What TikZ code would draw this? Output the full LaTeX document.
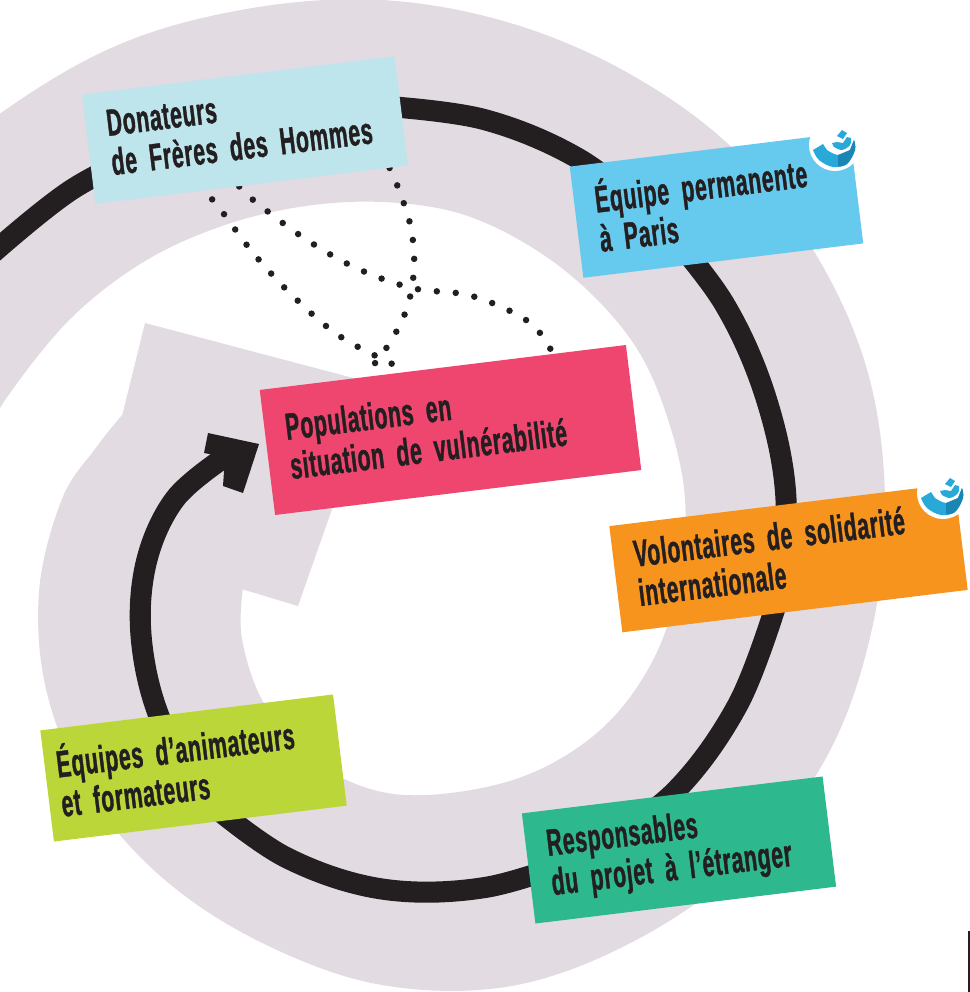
\documentclass[tikz,border=0pt]{standalone}
\usepackage{fontspec}
\usetikzlibrary{backgrounds,calc}
\newfontfamily\boxfont[FakeStretch=0.56,LetterSpace=2,FakeBold=1]{Liberation Sans}
\definecolor{ringgrey}{HTML}{E2DBE1}
\definecolor{inkblack}{HTML}{231F20}
\definecolor{paleblue}{HTML}{BEE4EC}
\definecolor{skyblue}{HTML}{66C9EE}
\definecolor{rosered}{HTML}{EE466E}
\definecolor{sunorange}{HTML}{F7941E}
\definecolor{limegreen}{HTML}{BBD638}
\definecolor{seagreen}{HTML}{2DB88D}
\definecolor{dropblue}{HTML}{29A9D8}
\definecolor{dropdark}{HTML}{1B86B4}
\tikzset{
  infobox/.style={rectangle, rotate=7, inner xsep=0.42cm, inner ysep=0pt, align=left, text=inkblack, text depth=27pt,
    font=\boxfont\bfseries\fontsize{21.5}{22.5}\selectfont\spaceskip 3.5pt\relax},
  ringline/.style={inkblack, line width=12pt},
  dotline/.style={inkblack, line width=3.7pt, line cap=round, dash pattern=on 0pt off 10.8pt},
  ringcurve/.style={smooth, tension=0.6},
}
\newcommand{\dropmark}[1]{
\begin{scope}[shift={#1}]
\fill[white] (835,145) circle [radius=26];
\fill[dropblue] plot[smooth,tension=.6] coordinates {(813,150) (819,160) (833,167) (847,164) (855,150) (854,140)}
  -- plot[smooth,tension=.6] coordinates {(850,150) (838,155) (827,150)} -- (823,144) -- cycle;
\fill[dropdark] plot[smooth,tension=.6] coordinates {(838,166) (847,164) (855,150) (854,140)}
  -- plot[smooth,tension=.6] coordinates {(850,150) (838,155)} -- cycle;
\fill[dropblue] (832,143) -- plot[smooth,tension=.6] coordinates {(834,147) (842,150) (850,145) (851,138)} -- (847,137) -- (843,143) -- (837,142) -- cycle;
\fill[dropblue] (842,130) -- (847,133) -- (843,139) -- (837,136) -- cycle;
\end{scope}
}

\begin{document}
\begin{tikzpicture}[x=0.02cm, y=-0.02cm]
\useasboundingbox (0,0) rectangle (970,992);
\node[infobox, fill=paleblue, text width=5.46cm, minimum height=2.2cm] (donors) at (245,130) {Donateurs\\de Frères des Hommes};
\node[infobox, fill=skyblue, text width=4.8cm, minimum height=2.24cm] (paris) at (716.5,205) {Équipe permanente\\à Paris};
\node[infobox, fill=rosered, text width=6.54cm, minimum height=2.52cm] (people) at (450.5,430) {Populations en\\situation de vulnérabilité};
\node[infobox, fill=sunorange, text width=6.12cm, minimum height=2.14cm] (volunteers) at (788.5,558) {Volontaires de solidarité\\internationale};
\node[infobox, fill=seagreen, text width=5.22cm, minimum height=2.22cm] (managers) at (679,850) {Responsables\\du projet à l’étranger};
\node[infobox, fill=limegreen, inner xsep=0.24cm, text width=5.42cm, minimum height=2.24cm] (teams) at (193.5,768) {Équipes d’animateurs\\et formateurs};
\coordinate (hub) at (382,499);
\coordinate (offleft) at (-22,266);
\coordinate (headbase) at (225,457);
\coordinate (dotA) at ($(donors.south west)!0.34!(donors.south east)+(-3,-5)$);
\coordinate (dotB) at ($(donors.south west)!0.46!(donors.south east)$);
\coordinate (dotC) at ($(donors.south west)!0.94!(donors.south east)$);
\coordinate (endA) at ($(people.north west)!0.39!(people.north east)$);
\coordinate (endB) at ($(people.north west)!0.80!(people.north east)$);
\coordinate (endC) at ($(people.north west)!0.285!(people.north east)$);
\begin{scope}[on background layer]
\begin{scope}[shift={(hub)}]
\fill[ringgrey] (145,323) ++(-382,-499) -- ++(231,61) -- ++(-78,222)
  -- plot[ringcurve] coordinates {(147:166) (135:198) (120:236) (105:270) (90:293) (75:303) (60:313) (45:318) (30:315) (15:308) (0:303) (-15:297) (-30:296) (-45:293) (-60:293) (-75:296) (-90:297) (-105:303) (-120:316) (-135:336) (-150:360) (-165:389) (-172:403)}
  -- plot[ringcurve] coordinates {(-150:575) (-135:543) (-120:525) (-105:508) (-90:499) (-75:493) (-60:492) (-45:496) (-30:498) (-15:502) (0:503) (15:507) (30:514) (45:514) (60:509) (75:504) (90:486) (105:460) (120:438) (135:415) (150:387) (165:355) (180:320) (190:291) (198:273)} -- cycle;
\draw[ringline] plot[ringcurve] coordinates {(offleft) (-135:438) (-120:416)} -- (donors.center);
\draw[ringline] (donors.center) -- plot[ringcurve] coordinates {(-90:393) (-75:393) (-60:393) (-45:393)} -- (paris.center);
\draw[ringline] (paris.center) -- plot[ringcurve] coordinates {(-45:393) (-30:394) (-15:397) (0:404) (15:408)} -- (volunteers.center);
\draw[ringline] (volunteers.center) -- plot[ringcurve] coordinates {(15:408) (30:411) (45:414) (60:412)} -- (managers.center);
\draw[ringline] (managers.center) -- plot[ringcurve] coordinates {(60:412) (75:402) (90:390) (105:371) (120:349)} -- (teams.center);
\draw[ringline] (teams.center) -- plot[ringcurve] coordinates {(120:349) (135:313) (150:278) (165:244) (180:207) (headbase)};
\end{scope}
\fill[inkblack] (208,433) -- (259,444) -- (243,493) -- (223,486) -- (headbase) -- (204,453) -- cycle;
\draw[dotline] plot[smooth,tension=.6] coordinates {(dotA) (217,205) (254,254) (296,299) (341,337) (398,367) (endA)};
\draw[dotline] plot[smooth,tension=.6] coordinates {(dotB) (252,199) (301,236) (354,267) (412,288) (472,296) (529,322) (endB)};
\draw[dotline] plot[smooth,tension=.6] coordinates {(dotC) (399,190) (411,228) (414,268) (407,308) (389,344) (endC)};
\end{scope}
\dropmark{(0,0)}
\dropmark{(108,348)}
\fill[inkblack] (968,931) rectangle (970,992);
\end{tikzpicture}
\end{document}
